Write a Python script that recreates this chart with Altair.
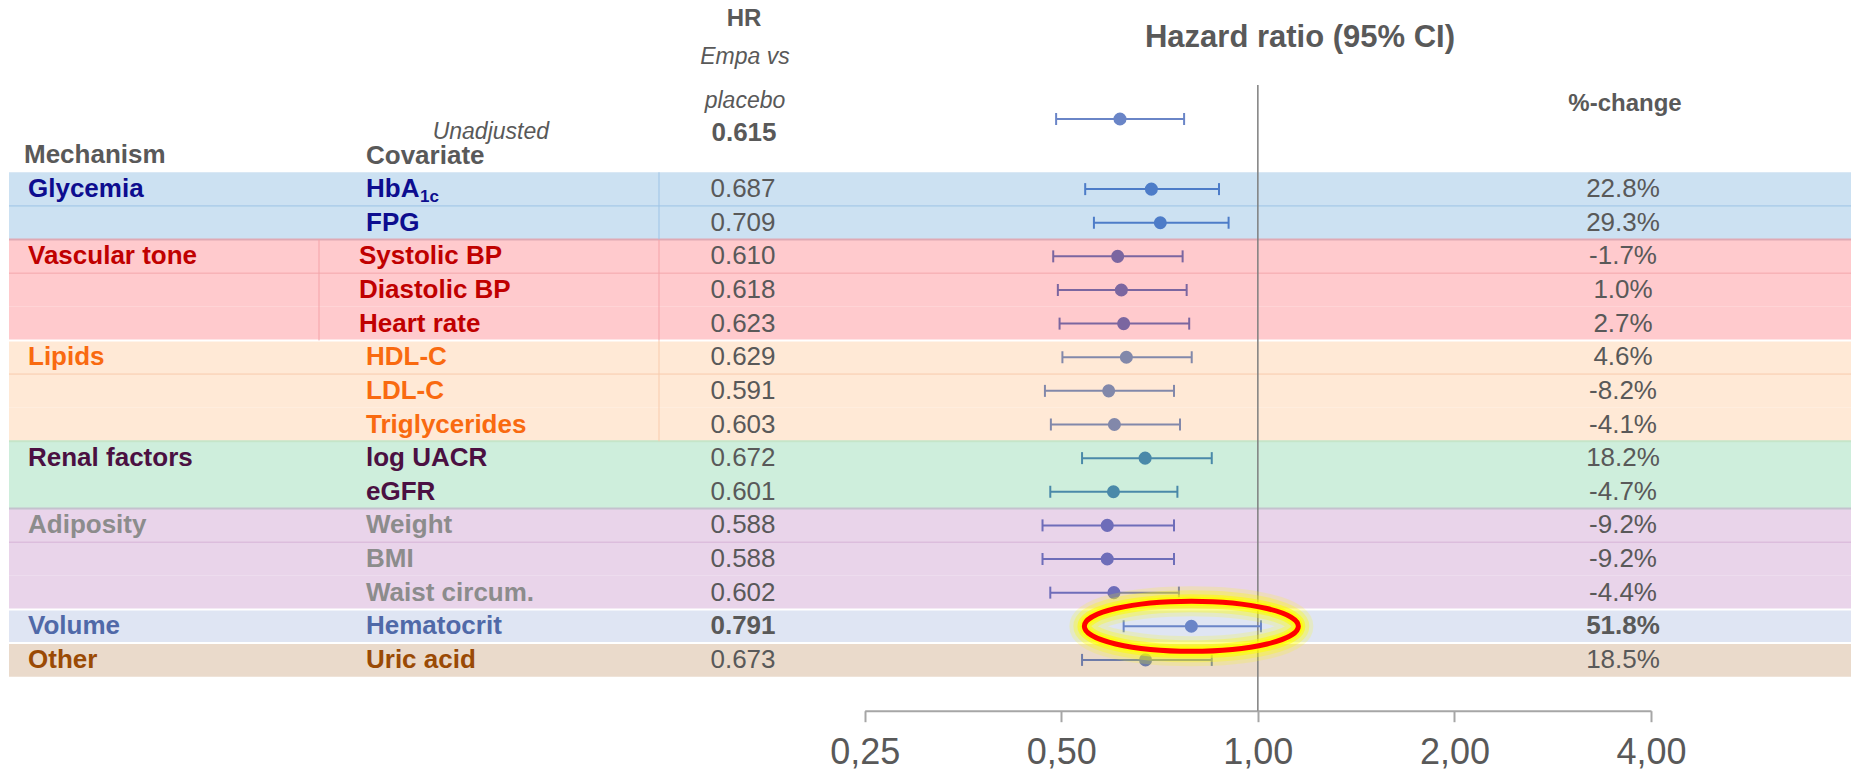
import altair as alt
import pandas as pd

# ---------------- data ----------------
groups = ["Glycemia", "Vascular tone", "Lipids", "Renal factors", "Adiposity", "Volume", "Other"]
group_sizes = [2, 3, 3, 2, 3, 1, 1]
covariates = ["HbA1c", "FPG", "Systolic BP", "Diastolic BP", "Heart rate", "HDL-C", "LDL-C",
              "Triglycerides", "log UACR", "eGFR", "Weight", "BMI", "Waist circum.",
              "Hematocrit", "Uric acid"]
hr = [0.687, 0.709, 0.610, 0.618, 0.623, 0.629, 0.591, 0.603, 0.672, 0.601, 0.588, 0.588,
      0.602, 0.791, 0.673]
ci_low = [0.544, 0.561, 0.486, 0.494, 0.497, 0.502, 0.472, 0.482, 0.538, 0.481, 0.468, 0.468,
          0.481, 0.623, 0.538]
ci_high = [0.872, 0.902, 0.767, 0.778, 0.785, 0.792, 0.744, 0.760, 0.850, 0.753, 0.744, 0.744,
           0.757, 1.011, 0.850]
pct_change = ["22.8%", "29.3%", "-1.7%", "1.0%", "2.7%", "4.6%", "-8.2%", "-4.1%", "18.2%",
              "-4.7%", "-9.2%", "-9.2%", "-4.4%", "51.8%", "18.5%"]
unadj_hr, unadj_low, unadj_high = 0.615, 0.491, 0.771
tick_values = [0.25, 0.5, 1, 2, 4]
highlight = "Hematocrit"

# ---------------- styles ----------------
FONT = "Liberation Sans, Arial, Helvetica, sans-serif"
GREY = "#595959"
band_col = {"Glycemia": "#CCE1F2", "Vascular tone": "#FFCACD", "Lipids": "#FFE9D6",
            "Renal factors": "#CEEEDC", "Adiposity": "#E9D4EA", "Volume": "#DFE5F3",
            "Other": "#EADACB"}
text_col = {"Glycemia": "#0D0D8F", "Vascular tone": "#C00000", "Lipids": "#F96A10",
            "Renal factors": "#4B1042", "Adiposity": "#8C8C8C", "Volume": "#5069A8",
            "Other": "#9A4A05"}
point_col = {"Glycemia": "#4D7CC8", "Vascular tone": "#7B66A0", "Lipids": "#8288AA",
             "Renal factors": "#4A89A9", "Adiposity": "#6E6DB9", "Volume": "#6A85C7",
             "Other": "#6E7BA8"}
top_border_col = {"Glycemia": "#CCE1F2", "Vascular tone": "#E0A9B4", "Lipids": "#FFFFFF",
                  "Renal factors": "#C5E5C9", "Adiposity": "#C4C2CE", "Volume": "#FFFFFF",
                  "Other": "#FFFFFF"}
inner_line_col = {"Glycemia": "#9DC3E6", "Vascular tone": "#F4A3A8", "Lipids": "#F8CBAD",
                  "Adiposity": "#D4B0D6"}
UNADJ_COL = "#6A85C7"

W, H = 1851, 774

# ---------------- tables ----------------
grp_of_row = []
for g, n in zip(groups, group_sizes):
    grp_of_row += [g] * n

rows = pd.DataFrame({
    "cov": covariates, "group": grp_of_row, "hr": hr, "lo": ci_low, "hi": ci_high,
    "pct": pct_change,
})
rows["i"] = range(1, len(rows) + 1)
rows["top"] = rows["i"] - 1
rows["bot"] = rows["i"]
rows["mid"] = rows["i"] - 0.5
rows["band"] = rows["group"].map(band_col)
rows["tcol"] = rows["group"].map(text_col)
rows["pcol"] = rows["group"].map(point_col)
rows["hrtxt"] = rows["hr"].map(lambda v: f"{v:.3f}")
rows["label"] = rows["cov"].replace({"HbA1c": "HbA"})

starts = [sum(group_sizes[:k]) for k in range(len(groups))]
gdf = pd.DataFrame({"group": groups, "start": starts, "size": group_sizes})
gdf["mid"] = gdf["start"] + 0.5
gdf["end"] = gdf["start"] + gdf["size"]
gdf["tcol"] = gdf["group"].map(text_col)
gdf["bcol"] = gdf["group"].map(top_border_col)
inner = gdf[gdf["group"].isin(inner_line_col.keys())].copy()
inner["pos"] = inner["start"] + 1
inner["lcol"] = inner["group"].map(inner_line_col)

unadj = pd.DataFrame({"hr": [unadj_hr], "lo": [unadj_low], "hi": [unadj_high]})

# ---------------- scales ----------------
yscale = alt.Scale(domain=[0, 15], range=[172.3, 676.7], nice=False, zero=False)
xscale = alt.Scale(type="log", base=2, domain=[0.25, 4], range=[864.7, 1651], nice=False)
xaxis = alt.Axis(values=tick_values, labelExpr="replace(format(datum.value, '.2f'), '.', ',')",
                 grid=False, offset=-(H - 710.7), tickSize=11, tickWidth=2,
                 tickColor="#A6A6A6", domainColor="#A6A6A6", domainWidth=2,
                 labelFontSize=36, labelColor=GREY, labelFont=FONT, labelPadding=14,
                 labelFlush=False, labelOverlap=False, title=None)


def X(field):
    return alt.X(field, type="quantitative", scale=xscale, axis=xaxis)


def Y(field):
    return alt.Y(field, type="quantitative", scale=yscale, axis=None)


base = alt.Chart(rows)

bands = base.mark_rect().encode(
    x=alt.value(9), x2=alt.value(W), y=Y("top"), y2="bot",
    fill=alt.Fill("band:N", scale=None))

top_borders = alt.Chart(gdf[gdf["start"] > 0]).mark_rule(strokeWidth=2).encode(
    x=alt.value(9), x2=alt.value(W), y=Y("start"), color=alt.Color("bcol:N", scale=None))

inner_lines = alt.Chart(inner).mark_rule(strokeWidth=1).encode(
    x=alt.value(9), x2=alt.value(W), y=Y("pos"), color=alt.Color("lcol:N", scale=None))

vcol_groups = gdf[gdf["group"].isin(["Glycemia", "Vascular tone", "Lipids"])].copy()
vcol_groups["lcol"] = vcol_groups["group"].map(inner_line_col)
vlines = alt.Chart(vcol_groups).mark_rule(strokeWidth=1).encode(
    x=alt.value(659), y=Y("start"), y2="end", color=alt.Color("lcol:N", scale=None))
vline_vasc = alt.Chart(vcol_groups[vcol_groups["group"] == "Vascular tone"]).mark_rule(
    strokeWidth=1).encode(x=alt.value(319), y=Y("start"), y2="end",
                          color=alt.Color("lcol:N", scale=None))

ref = alt.Chart(pd.DataFrame({"v": [1.0]})).mark_rule(color="#7F7F7F", strokeWidth=1.5).encode(
    x=X("v"), y=alt.value(85), y2=alt.value(710.7))

err = base.mark_rule(strokeWidth=2).encode(
    x=X("lo"), x2="hi", y=Y("mid"), color=alt.Color("pcol:N", scale=None))
caps = base.transform_fold(["lo", "hi"], as_=["end", "val"]).mark_point(
    shape="M0,-1L0,1", size=144, strokeWidth=2, filled=False, opacity=1).encode(
    x=X("val"), y=Y("mid"), color=alt.Color("pcol:N", scale=None))
pts = base.mark_circle(size=170, opacity=1).encode(
    x=X("hr"), y=Y("mid"), color=alt.Color("pcol:N", scale=None))

ubase = alt.Chart(unadj)
u_err = ubase.mark_rule(strokeWidth=2, color=UNADJ_COL).encode(x=X("lo"), x2="hi", y=alt.value(119))
u_caps = ubase.transform_fold(["lo", "hi"], as_=["end", "val"]).mark_point(
    shape="M0,-1L0,1", size=144, strokeWidth=2, filled=False, opacity=1, color=UNADJ_COL).encode(
    x=X("val"), y=alt.value(119))
u_pt = ubase.mark_circle(size=170, opacity=1, color=UNADJ_COL).encode(x=X("hr"), y=alt.value(119))

mech = alt.Chart(gdf).mark_text(align="left", baseline="middle", font=FONT, fontSize=26,
                                fontWeight="bold").encode(
    x=alt.value(28), y=Y("mid"), text="group:N", color=alt.Color("tcol:N", scale=None))

covl = base.transform_filter(alt.datum.group != "Vascular tone").mark_text(
    align="left", baseline="middle", font=FONT, fontSize=26, fontWeight="bold").encode(
    x=alt.value(366), y=Y("mid"), text="label:N", color=alt.Color("tcol:N", scale=None))
covl_vasc = base.transform_filter(alt.datum.group == "Vascular tone").mark_text(
    align="left", baseline="middle", font=FONT, fontSize=26, fontWeight="bold").encode(
    x=alt.value(359), y=Y("mid"), text="label:N", color=alt.Color("tcol:N", scale=None))
sub = base.transform_filter(alt.datum.cov == "HbA1c").mark_text(
    align="left", baseline="middle", font=FONT, fontSize=17, fontWeight="bold", dy=8).encode(
    x=alt.value(420), y=Y("mid"), text=alt.value("1c"), color=alt.Color("tcol:N", scale=None))

hr_norm = base.transform_filter(alt.datum.cov != highlight).mark_text(
    align="center", baseline="middle", font=FONT, fontSize=26, color=GREY).encode(
    x=alt.value(743), y=Y("mid"), text="hrtxt:N")
hr_bold = base.transform_filter(alt.datum.cov == highlight).mark_text(
    align="center", baseline="middle", font=FONT, fontSize=26, fontWeight="bold", color=GREY).encode(
    x=alt.value(743), y=Y("mid"), text="hrtxt:N")
pc_norm = base.transform_filter(alt.datum.cov != highlight).mark_text(
    align="center", baseline="middle", font=FONT, fontSize=26, color=GREY).encode(
    x=alt.value(1623), y=Y("mid"), text="pct:N")
pc_bold = base.transform_filter(alt.datum.cov == highlight).mark_text(
    align="center", baseline="middle", font=FONT, fontSize=26, fontWeight="bold", color=GREY).encode(
    x=alt.value(1623), y=Y("mid"), text="pct:N")

ELL = "M-1,0A1,0.234,0,1,0,1,0A1,0.234,0,1,0,-1,0Z"
hl = base.transform_filter(alt.datum.cov == highlight)
glow_layers = []
for sw, op in [(30, 0.18), (22, 0.3), (14, 0.55), (9, 0.8)]:
    glow_layers.append(hl.mark_point(shape=ELL, size=214 * 214, filled=False, color="#FFFF00",
                                     strokeWidth=sw, opacity=op).encode(x=X("hr"), y=Y("mid")))
ring = hl.mark_point(shape=ELL, size=214 * 214, filled=False, color="#FF0000", strokeWidth=5,
                     opacity=1).encode(x=X("hr"), y=Y("mid"))


def label(txt, x, y, size, weight="normal", style="normal", align="center"):
    return alt.Chart(pd.DataFrame({"t": [txt]})).mark_text(
        align=align, baseline="middle", font=FONT, fontSize=size, fontWeight=weight,
        fontStyle=style, color=GREY).encode(x=alt.value(x), y=alt.value(y), text="t:N")


headers = [
    label("HR", 744, 19, 24, weight="bold"),
    label("Empa vs", 745, 57, 23, style="italic"),
    label("placebo", 745, 101, 23, style="italic"),
    label("0.615", 744, 133, 26, weight="bold"),
    label("Unadjusted", 549, 132, 23, style="italic", align="right"),
    label("Mechanism", 24, 155, 26, weight="bold", align="left"),
    label("Covariate", 366, 156, 26, weight="bold", align="left"),
    label("Hazard ratio (95% CI)", 1300, 38, 31, weight="bold"),
    label("%-change", 1625, 104, 24, weight="bold"),
]

chart = alt.layer(
    bands, top_borders, inner_lines, vlines, vline_vasc, ref,
    err, caps, pts, u_err, u_caps, u_pt,
    mech, covl, covl_vasc, sub, hr_norm, hr_bold, pc_norm, pc_bold,
    *glow_layers, ring, *headers
).properties(width=W, height=H, padding=0, autosize="none", background="white"
).configure_view(strokeWidth=0)

chart.save("out.html", embed_options={"renderer": "svg", "actions": False})
